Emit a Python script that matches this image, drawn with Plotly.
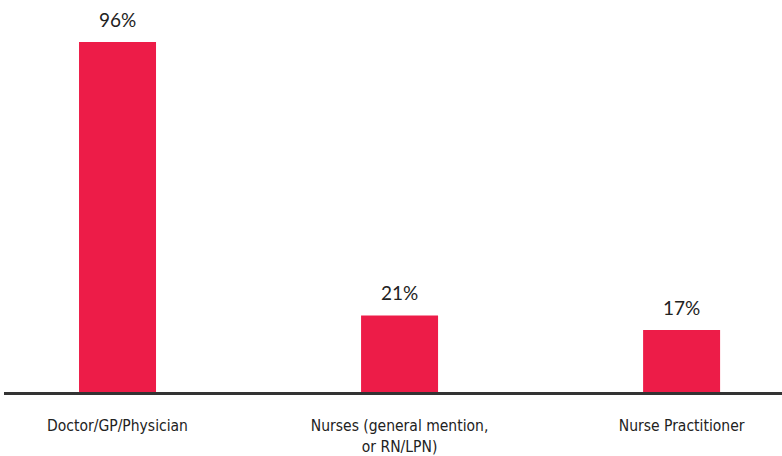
import plotly.graph_objects as go

# Survey responses: share mentioning each provider type
categories = ["Doctor/GP/Physician", "Nurses (general mention,<br>or RN/LPN)", "Nurse Practitioner"]
values = [96, 21, 17]
value_labels = ["96%", "21%", "17%"]

BAR_COLOR = "#ED1C48"

fig = go.Figure(
    go.Bar(
        x=list(range(len(categories))),
        y=values,
        marker=dict(color=BAR_COLOR, line=dict(width=0)),
        hoverinfo="skip",
    )
)

for i, (v, lbl) in enumerate(zip(values, value_labels)):
    fig.add_annotation(
        x=i, y=v, text=lbl, showarrow=False,
        yanchor="bottom", yshift=9,
        font=dict(family="Lato, Open Sans, sans-serif", size=19, color="#222222"),
    )

fig.update_layout(
    width=782, height=456,
    margin=dict(l=4, r=0, t=10, b=64),
    paper_bgcolor="white", plot_bgcolor="white",
    bargap=0.727,
    showlegend=False,
    xaxis=dict(
        range=[-0.4025, 2.356],
        tickmode="array",
        tickvals=list(range(len(categories))),
        ticktext=categories,
        showline=True, linecolor="#333333", linewidth=2.5,
        ticks="", showgrid=False, zeroline=False,
        tickfont=dict(family="DejaVu Sans Condensed, Liberation Sans Narrow, sans-serif",
                      size=15.5, color="#222222"),
        ticklabelstandoff=18,
    ),
    yaxis=dict(
        range=[0, 104.8],
        visible=False, showgrid=False, zeroline=False,
    ),
)

fig.write_html("out.html")
